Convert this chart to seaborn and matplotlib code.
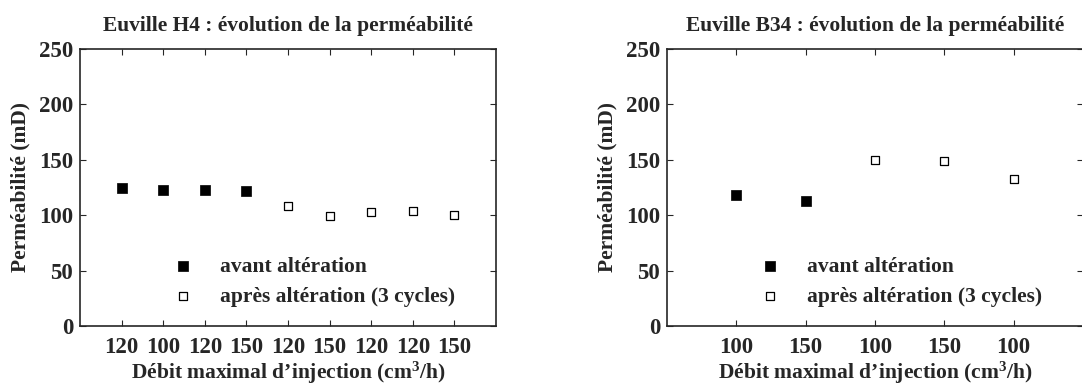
import numpy as np
import pandas as pd
import seaborn as sns
import matplotlib.pyplot as plt

# Euville H4
h4_debit = ['120', '100', '120', '150', '120', '150', '120', '120', '150']
h4_avant = [124.3, 122.5, 123.0, 122.0]
h4_apres = [108.7, 99.7, 102.7, 104.2, 100.6]

# Euville B34
b34_debit = ['100', '150', '100', '150', '100']
b34_avant = [117.8, 113.1]
b34_apres = [150.1, 148.6, 132.9]

lab_avant = 'avant altération'
lab_apres = 'après altération (3 cycles)'

sns.set_style('ticks')
plt.rcParams['font.family'] = ['Liberation Serif', 'DejaVu Serif']
plt.rcParams['font.weight'] = 'bold'
plt.rcParams['axes.labelweight'] = 'bold'
plt.rcParams['axes.titleweight'] = 'bold'
plt.rcParams['mathtext.fontset'] = 'custom'
plt.rcParams['mathtext.rm'] = 'Liberation Serif:bold'
plt.rcParams['mathtext.bf'] = 'Liberation Serif:bold'
plt.rcParams['mathtext.it'] = 'Liberation Serif:bold'


def make_df(avant, apres):
    n = len(avant) + len(apres)
    return pd.DataFrame({
        'pos': np.arange(1, n + 1),
        'perm': avant + apres,
        'etat': [lab_avant] * len(avant) + [lab_apres] * len(apres),
    })


def draw(ax, df, debit, title):
    av = df[df['etat'] == lab_avant]
    ap = df[df['etat'] == lab_apres]
    sns.scatterplot(data=av, x='pos', y='perm', marker='s', s=44, color='black',
                    edgecolor='black', linewidth=0.5, label=lab_avant, ax=ax)
    sns.scatterplot(data=ap, x='pos', y='perm', marker='s', s=34, color='white',
                    edgecolor='black', linewidth=0.9, label=lab_apres, ax=ax)
    ax.set_xlim(0, len(debit) + 1)
    ax.set_ylim(0, 250)
    ax.set_xticks(range(1, len(debit) + 1), debit)
    ax.set_yticks([0, 50, 100, 150, 200, 250])
    ax.tick_params(direction='in', top=True, right=True, length=4, width=0.8,
                   labelsize=16.5)
    ax.tick_params(axis='x', pad=8)
    ax.tick_params(axis='y', pad=5)
    for sp in ax.spines.values():
        sp.set_linewidth(1.2)
    ax.set_title(title, fontsize=15.5, pad=13)
    ax.set_xlabel('Débit maximal d’injection (cm$^{3}$/h)', fontsize=15.5, labelpad=1)
    ax.set_ylabel('Perméabilité (mD)', fontsize=15.5, labelpad=6)
    ax.legend(loc='lower left', bbox_to_anchor=(0.222, 0.07), frameon=False,
              fontsize=15.5, borderpad=0, borderaxespad=0, handlelength=1.0,
              handletextpad=1.2, labelspacing=0.45)


fig = plt.figure(figsize=(10.82, 3.88), dpi=100)
ax1 = fig.add_axes([80 / 1082, 62 / 388, 416 / 1082, 277 / 388])
ax2 = fig.add_axes([667 / 1082, 62 / 388, 416 / 1082, 277 / 388])

draw(ax1, make_df(h4_avant, h4_apres), h4_debit,
     'Euville H4 : évolution de la perméabilité')
draw(ax2, make_df(b34_avant, b34_apres), b34_debit,
     'Euville B34 : évolution de la perméabilité')

fig.savefig('out.png', dpi=100)
